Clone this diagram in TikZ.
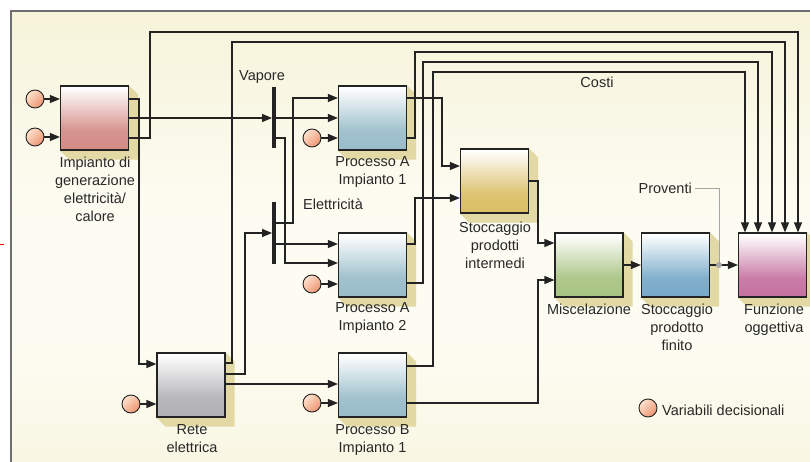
\documentclass[tikz,border=0pt]{standalone}
\usepackage{fontspec}
\setmainfont{Liberation Sans}
\usetikzlibrary{arrows.meta}
\definecolor{ln}{RGB}{35,35,35}
\definecolor{txt}{RGB}{40,40,40}
\definecolor{bgT}{RGB}{239,234,192}
\definecolor{bgM}{RGB}{253,252,242}
\definecolor{bgB}{RGB}{241,236,198}
\definecolor{shd}{RGB}{226,217,165}
\definecolor{frm}{RGB}{110,110,110}
\definecolor{gry}{RGB}{165,165,165}
\definecolor{genT}{RGB}{238,158,148}
\definecolor{genB}{RGB}{206,124,118}
\definecolor{prT}{RGB}{158,200,214}
\definecolor{prB}{RGB}{140,180,194}
\definecolor{reT}{RGB}{205,205,205}
\definecolor{reB}{RGB}{168,168,172}
\definecolor{stT}{RGB}{240,208,105}
\definecolor{stB}{RGB}{214,182,82}
\definecolor{miT}{RGB}{182,210,146}
\definecolor{miB}{RGB}{156,188,114}
\definecolor{sfT}{RGB}{112,178,214}
\definecolor{sfB}{RGB}{102,158,194}
\definecolor{fuT}{RGB}{216,120,172}
\definecolor{fuB}{RGB}{190,96,148}
\definecolor{ciL}{RGB}{255,226,206}
\definecolor{ciD}{RGB}{236,148,112}
\pgfdeclareverticalshading{bgsh}{100bp}{color(0bp)=(bgB); color(38bp)=(bgM); color(52bp)=(bgM); color(100bp)=(bgT)}
\newcommand\myboxshade[3]{%
  \colorlet{tmpM}{#3!82!white}\colorlet{tmpL}{#2!55!white}%
  \pgfdeclareverticalshading{#1}{100bp}{color(0bp)=(#3); color(40bp)=(tmpM); color(74bp)=(white); color(81bp)=(white); color(91bp)=(tmpL); color(100bp)=(#2)}}
\myboxshade{gensh}{genT}{genB}
\myboxshade{prsh}{prT}{prB}
\myboxshade{resh}{reT}{reB}
\myboxshade{stsh}{stT}{stB}
\myboxshade{mish}{miT}{miB}
\myboxshade{sfsh}{sfT}{sfB}
\myboxshade{fush}{fuT}{fuB}
\pgfdeclarelayer{bg}
\pgfsetlayers{bg,main}
\begin{document}
\begin{tikzpicture}[x=1pt,y=-1pt,
  box/.style={draw=ln, line width=1.2pt, minimum width=68pt, minimum height=64pt, inner sep=0pt, shade, shading=#1},
  lbl/.style={font=\fontsize{14.5}{18}\selectfont, text=txt, align=center, inner sep=0pt},
  wire/.style={draw=ln, line width=1.2pt},
  arr/.style={wire, -{Triangle[length=10pt,width=8pt]}},
  circ/.style={circle, draw=ln, line width=0.9pt, minimum size=18pt, inner sep=0pt, shade, top color=ciL, bottom color=ciD, shading angle=45},
  bar/.style={fill=ln, minimum width=3.5pt, minimum height=61pt, inner sep=0pt},
  gline/.style={draw=gry, line width=1pt}]
\useasboundingbox (0,0) rectangle (810,462);
% boxes
\node[box=gensh] (gen) at (94.5,118) {};
\node[box=prsh] (pa1) at (372.5,118) {};
\node[box=prsh] (pa2) at (372.5,265) {};
\node[box=prsh] (pb1) at (372.5,385) {};
\node[box=resh] (rete) at (191,385) {};
\node[box=stsh] (sti) at (494.5,181) {};
\node[box=mish] (mis) at (589,265) {};
\node[box=sfsh] (stf) at (675.5,265) {};
\node[box=fush] (fun) at (772.5,265) {};
% bars
\node[bar] (vap) at (274,117.5) {};
\node[bar] (ele) at (274,233) {};
% circles
\node[circ] (c1) at (35,99) {};
\node[circ] (c2) at (35,137) {};
\node[circ] (c3) at (312,138) {};
\node[circ] (c4) at (312,284) {};
\node[circ] (c5) at (312,403) {};
\node[circ] (c6) at (131,404) {};
\node[circ] (c7) at (648,408) {};
% background and shadows
\begin{pgfonlayer}{bg}
\shade[shading=bgsh] (11,11) rectangle (810,462);
\draw[frm, line width=1.8pt] (11,462) -- (11,11) -- (810,11);
\draw[red, line width=1.5pt] (0,244.5) -- (4,244.5);
\foreach \n in {gen,pa1,pa2,pb1,rete,sti,mis,stf,fun}
  \fill[shd] (\n.north east) -- ([shift={(9,9)}]\n.north east) -- ([shift={(9,9)}]\n.south east) -- ([shift={(9,9)}]\n.south west) -- (\n.south west) -- cycle;
\end{pgfonlayer}
% labels
\node[lbl, anchor=north] (lgen) at (95,156.5) {Impianto di\\generazione\\elettricità/\\calore};
\node[lbl, anchor=north] (lpa1) at (372.5,156.5) {Processo A\\Impianto 1};
\node[lbl, anchor=north] (lpa2) at (372.5,302.5) {Processo A\\Impianto 2};
\node[lbl, anchor=north] (lpb1) at (372.5,424.5) {Processo B\\Impianto 1};
\node[lbl, anchor=north] (lrete) at (192,424.5) {Rete\\elettrica};
\node[lbl, anchor=north] (lsti) at (495,221.5) {Stoccaggio\\prodotti\\intermedi};
\node[lbl, anchor=north] (lmis) at (589,303.5) {Miscelazione};
\node[lbl, anchor=north] (lstf) at (677,303.5) {Stoccaggio\\prodotto\\finito};
\node[lbl, anchor=north] (lfun) at (774,303.5) {Funzione\\oggettiva};
\node[lbl, anchor=base] (lvap) at (262,81) {Vapore};
\node[lbl, anchor=base west] (lele) at (303,209.5) {Elettricità};
\node[lbl, anchor=base] (lcost) at (597,88) {Costi};
\node[lbl, anchor=base east] (prov) at (692,194) {Proventi};
\node[lbl, anchor=base west] (leg) at (662,415) {Variabili decisionali};
% circle inputs
\draw[arr] (c1) -- (gen.west |- c1);
\draw[arr] (c2) -- (gen.west |- c2);
\draw[arr] (c3) -- (pa1.west |- c3);
\draw[arr] (c4) -- (pa2.west |- c4);
\draw[arr] (c5) -- (pb1.west |- c5);
\draw[arr] (c6) -- (rete.west |- c6);
% connectors
\draw[arr] (gen.east |- 0,99) -- (139,99) -- (139,364) -- (rete.west |- 0,364);
\draw[arr] (gen.east |- 0,118) -- (vap.west |- 0,118);
\draw[arr] (gen.east |- 0,138) -- (150,138) -- (150,32) -- (798,32) -- (798,0 |- fun.north);
\draw[arr] (vap.east |- 0,118) -- (pa1.west |- 0,118);
\draw[arr] (vap.east |- 0,138) -- (285,138) -- (285,263) -- (pa2.west |- 0,263);
\draw[arr] (ele.east |- 0,223) -- (293,223) -- (293,98) -- (pa1.west |- 0,98);
\draw[arr] (ele.east |- 0,244) -- (pa2.west |- 0,244);
\draw[arr] (rete.east |- 0,363) -- (232,363) -- (232,42) -- (785,42) -- (785,0 |- fun.north);
\draw[arr] (rete.east |- 0,374) -- (245,374) -- (245,233) -- (ele.west |- 0,233);
\draw[arr] (rete.east |- 0,384) -- (pb1.west |- 0,384);
\draw[arr] (pa1.east |- 0,98) -- (442,98) -- (442,166) -- (sti.west |- 0,166);
\draw[arr] (pa1.east |- 0,138) -- (415,138) -- (415,52) -- (772,52) -- (772,0 |- fun.north);
\draw[arr] (pa2.east |- 0,244) -- (415,244) -- (415,198) -- (sti.west |- 0,198);
\draw[arr] (pa2.east |- 0,283) -- (423,283) -- (423,62) -- (758,62) -- (758,0 |- fun.north);
\draw[arr] (pb1.east |- 0,366) -- (433,366) -- (433,72) -- (745,72) -- (745,0 |- fun.north);
\draw[arr] (pb1.east |- 0,403) -- (538,403) -- (538,280) -- (mis.west |- 0,280);
\draw[arr] (sti.east |- 0,181) -- (538,181) -- (538,243) -- (mis.west |- 0,243);
\draw[arr] (mis.east) -- (stf.west);
\draw[arr] (stf.east) -- (fun.west);
\coordinate (dotc) at (719,265);
\draw[gline] ([xshift=3pt]prov.east) -| (dotc);
\fill[gry] (dotc) circle (3pt);
\end{tikzpicture}
\end{document}
